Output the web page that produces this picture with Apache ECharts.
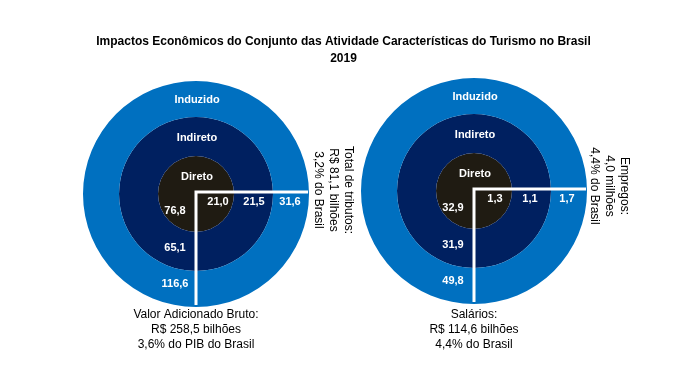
<!DOCTYPE html>
<html>
<head>
<meta charset="utf-8">
<style>
html,body{margin:0;padding:0;background:#fff;}
#chart{width:687px;height:376px;}
</style>
<script src="https://cdn.jsdelivr.net/npm/echarts@6/dist/echarts.min.js"></script>
</head>
<body>
<div id="chart"></div>
<script>
// ---- data ----
const titleLines = ['Impactos Econômicos do Conjunto das Atividade Características do Turismo no Brasil', '2019'];
const ringNames = ['Direto', 'Indireto', 'Induzido'];
const vabValues = [76.8, 65.1, 116.6];        // Valor Adicionado Bruto (R$ bilhões)
const tributosValues = [21.0, 21.5, 31.6];    // Total de tributos (R$ bilhões)
const salariosValues = [32.9, 31.9, 49.8];    // Salários (R$ bilhões)
const empregosValues = [1.3, 1.1, 1.7];       // Empregos (milhões)
const vabLabel = ['Valor Adicionado Bruto:', 'R$ 258,5 bilhões', '3,6% do PIB do Brasil'];
const tributosLabel = ['Total de tributos:', 'R$ 81,1 bilhões', '3,2% do Brasil'];
const salariosLabel = ['Salários:', 'R$ 114,6 bilhões', '4,4% do Brasil'];
const empregosLabel = ['Empregos:', '4,0 milhões', '4,4% do Brasil'];

// ---- layout ----
const ringColors = ['#1f1b12', '#002060', '#0070c0'];
const radii = [0, 38, 77, 113];
const FONT = '"Liberation Sans", Arial, sans-serif';
const charts = [
  { cx: 196, cy: 194, col: vabValues, row: tributosValues, bottom: vabLabel, side: tributosLabel,
    colDx: -21, rowDx: [22, 58, 94], sideX: 333, sideY: 190 },
  { cx: 474, cy: 191, col: salariosValues, row: empregosValues, bottom: salariosLabel, side: empregosLabel,
    colDx: -21, rowDx: [21, 56, 93], sideX: 609, sideY: 186 }
];
const fmt = v => v.toFixed(1).replace('.', ',');

const series = [];
const graphic = [];
charts.forEach((c) => {
  ringNames.forEach((name, i) => {
    series.push({
      type: 'pie', name: name, silent: true, animation: false,
      center: [c.cx, c.cy], radius: [radii[i], radii[i + 1]],
      label: { show: false }, labelLine: { show: false },
      emphasis: { disabled: true },
      itemStyle: { color: ringColors[i], borderWidth: 0 },
      data: [{ name: name, value: 1 }]
    });
  });
  // ring names
  const nameDy = [-17, -56, -94];
  ringNames.forEach((name, i) => {
    graphic.push({ type: 'text', x: c.cx + 1, y: c.cy + nameDy[i], z: 10,
      style: { text: name, fill: '#fff', font: 'bold 11px ' + FONT, align: 'center', verticalAlign: 'middle' } });
  });
  // white guide lines
  const rOut = radii[3];
  graphic.push({ type: 'polyline', z: 10,
    shape: { points: [[c.cx + rOut - 1, c.cy - 2], [c.cx, c.cy - 2], [c.cx, c.cy + rOut - 2]] },
    style: { stroke: '#fff', lineWidth: 3, fill: null, lineJoin: 'miter', lineCap: 'butt' } });
  // values along horizontal line
  c.row.forEach((v, i) => {
    graphic.push({ type: 'text', x: c.cx + c.rowDx[i], y: c.cy + 8, z: 10,
      style: { text: fmt(v), fill: '#fff', font: 'bold 11px ' + FONT, align: 'center', verticalAlign: 'middle' } });
  });
  // values along vertical line
  const colDy = [17, 54, 90];
  c.col.forEach((v, i) => {
    graphic.push({ type: 'text', x: c.cx + c.colDx, y: c.cy + colDy[i], z: 10,
      style: { text: fmt(v), fill: '#fff', font: 'bold 11px ' + FONT, align: 'center', verticalAlign: 'middle' } });
  });
  // bottom label
  graphic.push({ type: 'text', x: c.cx, y: 307, z: 10,
    style: { text: c.bottom.join('\n'), fill: '#000', font: '12px ' + FONT, align: 'center', verticalAlign: 'top',
      lineHeight: 15 } });
  // side label (rotated)
  graphic.push({ type: 'text', x: c.sideX, y: c.sideY, rotation: -Math.PI / 2, z: 10,
    style: { text: c.side.join('\n'), fill: '#000', font: '12px ' + FONT, align: 'center', verticalAlign: 'middle',
      lineHeight: 15 } });
});

const chart = echarts.init(document.getElementById('chart'), null, { renderer: 'canvas' });
chart.setOption({
  backgroundColor: '#fff',
  animation: false,
  title: {
    text: titleLines.join('\n'), left: 'center', top: 28,
    textStyle: { fontFamily: FONT, fontWeight: 'bold', fontSize: 12, color: '#000', lineHeight: 17 }
  },
  series: series,
  graphic: graphic
});
</script>
</body>
</html>
